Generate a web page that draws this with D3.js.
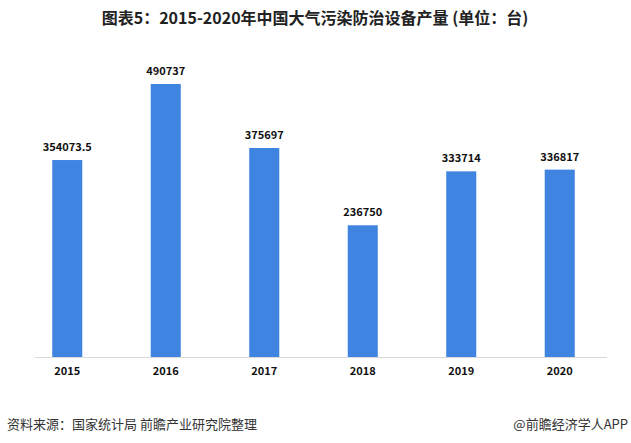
<!DOCTYPE html>
<html><head><meta charset="utf-8">
<script src="https://cdn.jsdelivr.net/npm/d3@7"></script>
<style>body{margin:0;background:#fff;}svg{display:block;}</style>
</head><body>
<script>
const years = ["2015","2016","2017","2018","2019","2020"];
const values = [354073.5, 490737, 375697, 236750, 333714, 336817];
const valueLabels = ["354073.5","490737","375697","236750","333714","336817"];
const title = "图表5：2015-2020年中国大气污染防治设备产量 (单位：台)";
const source = "资料来源：国家统计局 前瞻产业研究院整理";
const credit = "@前瞻经济学人APP";

const W = 631, H = 443;
const svg = d3.select("body").append("svg").attr("width", W).attr("height", H);
const font = "'Microsoft YaHei','Noto Sans CJK SC',sans-serif";

const x = d3.scaleBand().domain(years).range([18, 609]).paddingInner(0.695).paddingOuter(0.3475);
const y = d3.scaleLinear().domain([0, 500000]).range([357, 357 - 273 * 500000 / 490737]);

svg.append("text").attr("x", 315).attr("y", 24).attr("text-anchor", "middle")
  .attr("font-family", font).attr("font-weight", "bold").attr("font-size", 16).attr("fill", "#222")
  .text(title);

svg.append("line").attr("x1", 35).attr("x2", 607).attr("y1", 357.5).attr("y2", 357.5)
  .attr("stroke", "#d9d9d9").attr("stroke-width", 1);

svg.selectAll("rect.bar").data(values).join("rect").attr("class", "bar")
  .attr("x", (d, i) => x(years[i])).attr("width", x.bandwidth())
  .attr("y", d => y(d)).attr("height", d => y(0) - y(d))
  .attr("fill", "#4084e2");

svg.selectAll("text.val").data(values).join("text").attr("class", "val")
  .attr("x", (d, i) => x(years[i]) + x.bandwidth() / 2).attr("y", d => y(d) - 9)
  .attr("text-anchor", "middle").attr("font-family", font).attr("font-weight", "bold")
  .attr("font-size", 11).attr("fill", "#111").text((d, i) => valueLabels[i]);

const xAxis = svg.append("g").attr("transform", "translate(0,357)")
  .call(d3.axisBottom(x).tickSize(0).tickPadding(10));
xAxis.select(".domain").remove();
xAxis.selectAll("text").attr("font-family", font).attr("font-weight", "bold")
  .attr("font-size", 11).attr("fill", "#111");

svg.append("text").attr("x", 7).attr("y", 429).attr("font-family", font)
  .attr("font-size", 13).attr("fill", "#333").text(source);
svg.append("text").attr("x", 628).attr("y", 429).attr("text-anchor", "end").attr("font-family", font)
  .attr("font-size", 13).attr("fill", "#333").text(credit);
</script>
</body></html>
